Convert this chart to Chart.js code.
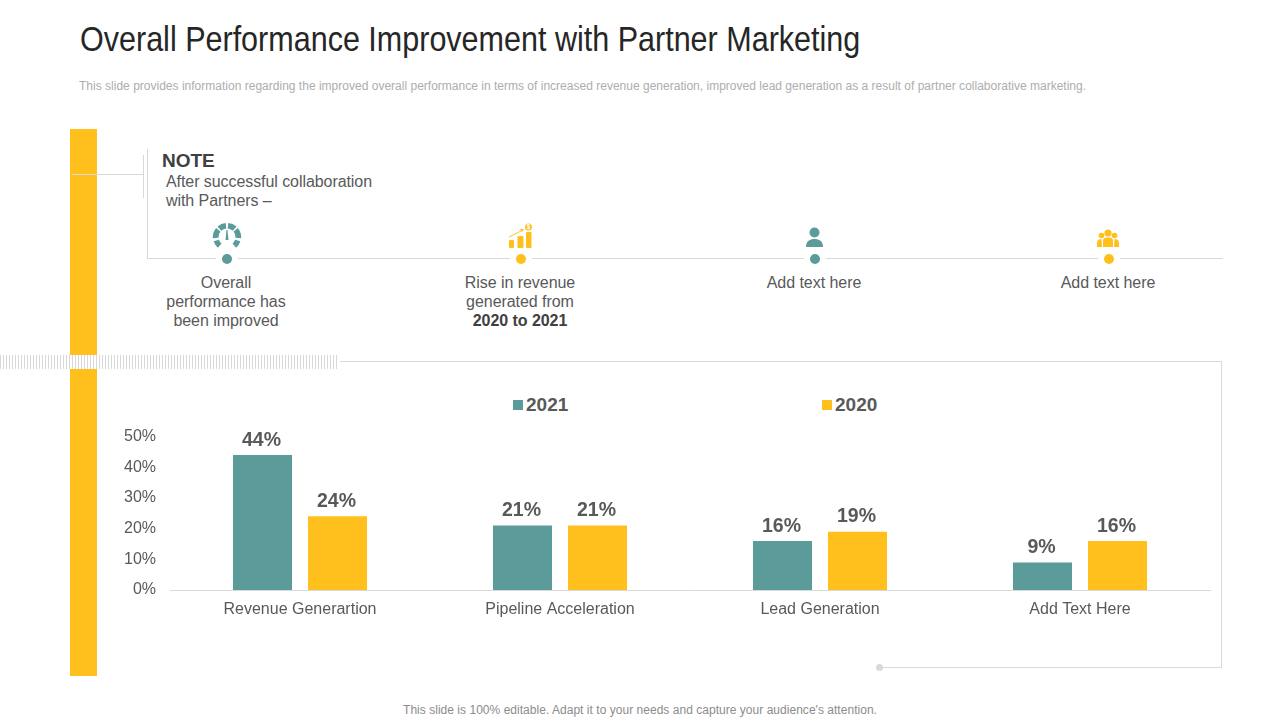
<!DOCTYPE html>
<html>
<head>
<meta charset="utf-8">
<script src="https://cdn.jsdelivr.net/npm/chart.js@4/dist/chart.umd.min.js"></script>
<style>
html, body { margin: 0; padding: 0; background: #fff; }
body { width: 1280px; height: 720px; position: relative; overflow: hidden; font-family: "Liberation Sans", Arial, sans-serif; color: #595959; }
.abs { position: absolute; }
.txt { position: absolute; white-space: nowrap; }
.ctr { text-align: center; font-size: 16px; line-height: 19px; letter-spacing: -0.05px; transform: translateX(-50%); }
.line { position: absolute; background: #d9d9d9; }
#title { left: 80px; top: 19px; font-size: 35px; line-height: 40px; color: #262626; transform-origin: 0 0; transform: scaleX(0.872); }
#sub { left: 79px; top: 79px; font-size: 12px; line-height: 14px; letter-spacing: 0.01px; color: #adadad; }
#foot { left: 0; width: 1280px; top: 703px; font-size: 12px; line-height: 14px; letter-spacing: 0.03px; color: #8c8c8c; text-align: center; }
.leg { position: absolute; top: 393px; font-size: 19px; line-height: 23px; font-weight: bold; color: #595959; }
.leg i { position: absolute; left: -13px; top: 7px; width: 10px; height: 10px; }
#chartWrap { position: absolute; left: 110px; top: 413px; width: 1110px; height: 227px; }
</style>
</head>
<body>
<div id="title" class="txt">Overall Performance Improvement with Partner Marketing</div>
<div id="sub" class="txt">This slide provides information regarding the improved overall performance in terms of increased revenue generation, improved lead generation as a result of partner collaborative marketing.</div>

<!-- side bars and hatch strip -->
<div class="abs" style="left:70px;top:129px;width:27px;height:226px;background:#ffc01d"></div>
<div class="abs" style="left:70px;top:369px;width:27px;height:307px;background:#ffc01d"></div>
<div class="abs" style="left:0;top:355px;width:338px;height:14px;background:repeating-linear-gradient(90deg,#d9d9d9 0,#d9d9d9 1px,#fff 1px,#fff 3px)"></div>

<!-- note bracket -->
<div class="line" style="left:72px;top:174px;width:72px;height:1px"></div>
<div class="line" style="left:143px;top:155px;width:1px;height:43px"></div>
<div class="line" style="left:147px;top:149px;width:1px;height:110px"></div>
<div class="line" style="left:147px;top:258px;width:1076px;height:1px"></div>

<div class="txt" style="left:162px;top:150px;font-size:19px;line-height:22px;font-weight:bold;color:#404040">NOTE</div>
<div class="txt" style="left:166px;top:172px;font-size:16px;line-height:19px;letter-spacing:-0.07px">After successful collaboration<br>with Partners –</div>

<!-- timeline icons -->
<svg class="abs" style="left:0;top:215px" width="1280" height="60" viewBox="0 215 1280 60">
  <g fill="none" stroke="#fff" stroke-width="6">
    <circle cx="227" cy="259" r="8"/><circle cx="521" cy="259" r="8"/><circle cx="815" cy="259" r="8"/><circle cx="1109" cy="259" r="8"/>
  </g>
  <circle cx="227" cy="259" r="5" fill="#5b9c9a"/>
  <circle cx="521" cy="259" r="5" fill="#ffc01d"/>
  <circle cx="815" cy="259" r="5" fill="#5b9c9a"/>
  <circle cx="1109" cy="259" r="5" fill="#ffc01d"/>

  <g fill="none" stroke="#5b9c9a" stroke-width="5.6">
    <path d="M228 225.7 A11.300 11.300 0 0 1 234.600 228.600"/>
    <path d="M235.700 229.700 A11.300 11.300 0 0 1 238.300 238"/>
    <path d="M237.700 240.500 A11.300 11.300 0 0 1 234.300 245.700"/>
    <path d="M226 225.7 A11.300 11.300 0 0 0 219.400 228.600"/>
    <path d="M218.300 229.700 A11.300 11.300 0 0 0 215.700 238"/>
    <path d="M216.300 240.500 A11.300 11.300 0 0 0 219.700 245.700"/>
  </g>
  <path d="M225.500 240 L226.500 230 L227.500 230 L228.500 240 Z" fill="#5b9c9a"/>

  <g fill="#ffc01d">
    <rect x="509" y="240" width="5" height="8" rx="1"/>
    <rect x="517.500" y="236" width="6" height="12" rx="1"/>
    <rect x="526" y="232" width="5.500" height="16" rx="1"/>
    <circle cx="528.500" cy="227" r="3.500"/>
  </g>
  <text x="528.500" y="229.300" font-size="6.500" font-weight="bold" fill="#fff" text-anchor="middle">$</text>
  <path d="M509 237 L523 230" stroke="#ffc01d" stroke-width="1" fill="none"/>
  <path d="M524 229 L520 229 L522 232 Z" fill="#ffc01d"/>

  <g fill="#5b9c9a">
    <circle cx="814.500" cy="232.500" r="5"/>
    <path d="M806 247 C806 241 810 239 814.500 239 C819 239 823 241 823 247 Z"/>
  </g>

  <g fill="#ffc01d">
    <circle cx="1108" cy="233" r="3.600"/>
    <circle cx="1101.500" cy="235.500" r="2.800"/>
    <circle cx="1114.500" cy="235.500" r="2.800"/>
    <path d="M1103 247 L1103 241 C1103 238 1105 237.500 1108 237.500 C1111 237.500 1113 238 1113 241 L1113 247 Z"/>
    <path d="M1097 247 L1097 243 C1097 240 1099 239 1101.500 239 L1102 247 Z"/>
    <path d="M1119 247 L1119 243 C1119 240 1117 239 1114.500 239 L1114 247 Z"/>
  </g>
</svg>

<div class="txt ctr" style="left:226px;top:273px">Overall<br>performance has<br>been improved</div>
<div class="txt ctr" style="left:520px;top:273px">Rise in revenue<br>generated from<br><b style="color:#404040">2020 to 2021</b></div>
<div class="txt ctr" style="left:814px;top:273px">Add text here</div>
<div class="txt ctr" style="left:1108px;top:273px">Add text here</div>

<!-- chart panel frame -->
<div class="line" style="left:340px;top:361px;width:882px;height:1px"></div>
<div class="line" style="left:1221px;top:361px;width:1px;height:307px"></div>
<div class="line" style="left:880px;top:667px;width:342px;height:1px"></div>
<div class="abs" style="left:876px;top:664px;width:7px;height:7px;border-radius:50%;background:#d9d9d9"></div>

<div id="legend"></div>
<div id="chartWrap"><canvas id="chart"></canvas></div>

<div id="foot" class="txt">This slide is 100% editable. Adapt it to your needs and capture your audience's attention.</div>

<script>
const categories = ['Revenue Generartion', 'Pipeline Acceleration', 'Lead Generation', 'Add Text Here'];
const values2021 = [44, 21, 16, 9];
const values2020 = [24, 21, 19, 16];
const yTicks = [0, 10, 20, 30, 40, 50];

const teal = '#5b9c9a';
const yellow = '#ffc01d';

// value labels above the bars
const barLabels = {
    id: 'barLabels',
    afterDatasetsDraw(chart) {
        const ctx = chart.ctx;
        ctx.save();
        ctx.font = 'bold 19.5px "Liberation Sans", Arial, sans-serif';
        ctx.fillStyle = '#595959';
        ctx.textAlign = 'center';
        ctx.textBaseline = 'bottom';
        chart.data.datasets.forEach((ds, i) => {
            chart.getDatasetMeta(i).data.forEach((bar, j) => {
                ctx.fillText(ds.data[j] + '%', bar.x - 1, bar.y - 5);
            });
        });
        ctx.restore();
    }
};

const chart = new Chart(document.getElementById('chart'), {
    type: 'bar',
    data: {
        labels: categories,
        datasets: [
            { label: '2021', data: values2021, backgroundColor: teal, categoryPercentage: 0.577, barPercentage: 0.787 },
            { label: '2020', data: values2020, backgroundColor: yellow, categoryPercentage: 0.577, barPercentage: 0.787 }
        ]
    },
    options: {
        responsive: true,
        maintainAspectRatio: false,
        animation: false,
        layout: { padding: { top: 9, right: 10, left: 0, bottom: 0 } },
        plugins: { legend: { display: false }, tooltip: { enabled: false } },
        scales: {
            x: {
                grid: { display: false },
                border: { color: '#d9d9d9' },
                ticks: { color: '#595959', font: { family: '"Liberation Sans", Arial, sans-serif', size: 16 }, padding: 2, maxRotation: 0 },
                afterFit(scale) { scale.height = 50; }
            },
            y: {
                min: 0,
                max: 50,
                afterBuildTicks(scale) { scale.ticks = yTicks.map(v => ({ value: v })); },
                grid: { display: false, drawTicks: false },
                border: { display: false },
                ticks: {
                    color: '#595959',
                    font: { family: '"Liberation Sans", Arial, sans-serif', size: 16 },
                    padding: 14,
                    callback: v => v + '%'
                },
                afterFit(scale) { scale.width = 60; }
            }
        }
    },
    plugins: [barLabels]
});

// legend sits far apart in the original, so it is built from the datasets
const legendX = [526, 835];
chart.data.datasets.forEach((ds, i) => {
    const el = document.createElement('div');
    el.className = 'leg';
    el.style.left = legendX[i] + 'px';
    el.textContent = ds.label;
    const swatch = document.createElement('i');
    swatch.style.background = ds.backgroundColor;
    el.appendChild(swatch);
    document.getElementById('legend').appendChild(el);
});
</script>
</body>
</html>
